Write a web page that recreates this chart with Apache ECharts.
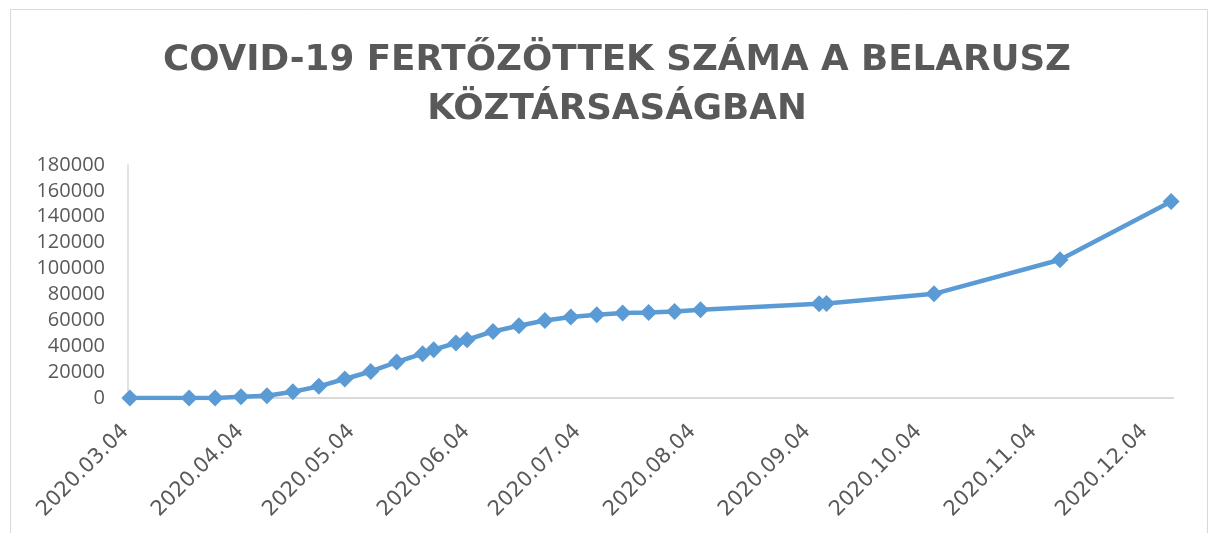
<!DOCTYPE html>
<html>
<head>
<meta charset="utf-8">
<title>COVID-19 Belarusz</title>
<script src="https://cdn.jsdelivr.net/npm/echarts@6/dist/echarts.min.js"></script>
<style>
  html, body { margin: 0; padding: 0; background: #fff; }
  #main { width: 1209px; height: 533px; }
</style>
</head>
<body>
<div id="main"></div>
<script>
// adatok
var dates = ['2020-03-04', '2020-03-20', '2020-03-27', '2020-04-03', '2020-04-10', '2020-04-17',
  '2020-04-24', '2020-05-01', '2020-05-08', '2020-05-15', '2020-05-22', '2020-05-25',
  '2020-05-31', '2020-06-03', '2020-06-10', '2020-06-17', '2020-06-24', '2020-07-01',
  '2020-07-08', '2020-07-15', '2020-07-22', '2020-07-29', '2020-08-05', '2020-09-06',
  '2020-09-08', '2020-10-07', '2020-11-10', '2020-12-10'];
var cases = [6, 60, 94, 1000, 1800, 4800,
  9000, 14700, 20500, 27800, 34200, 37300,
  42500, 45000, 51400, 55800, 59900, 62500,
  64300, 65600, 66100, 66900, 68200, 72800,
  73000, 80500, 106800, 151800];
var tickDates = ['2020-03-04', '2020-04-04', '2020-05-04', '2020-06-04', '2020-07-04',
  '2020-08-04', '2020-09-04', '2020-10-04', '2020-11-04', '2020-12-04'];
var yMax = 180000, yStep = 20000;

function ts(s) {
  var p = s.split('-');
  return Date.UTC(+p[0], +p[1] - 1, +p[2]);
}
function pad(n) { return (n < 10 ? '0' : '') + n; }

var seriesData = [];
for (var i = 0; i < dates.length; i++) {
  seriesData.push([ts(dates[i]), cases[i]]);
}
var tickValues = tickDates.map(ts);
var day = 24 * 3600 * 1000;

var myChart = echarts.init(document.getElementById('main'));
var option = {
  backgroundColor: '#fff',
  animation: false,
  title: {
    text: 'COVID-19 FERTŐZÖTTEK SZÁMA A BELARUSZ\nKÖZTÁRSASÁGBAN',
    left: 612,
    textAlign: 'center',
    top: 31,
    textStyle: {
      fontFamily: 'DejaVu Sans',
      fontWeight: 'bold',
      fontSize: 35.7,
      lineHeight: 49,
      color: '#595959'
    }
  },
  graphic: [{
    type: 'rect',
    shape: { x: 10.5, y: 9.5, width: 1197, height: 600 },
    style: { fill: 'none', stroke: '#d9d9d9', lineWidth: 1 },
    silent: true
  }],
  grid: { left: 128, right: 36, top: 165, bottom: 135, containLabel: false },
  xAxis: {
    type: 'value',
    min: ts('2020-03-04') - day / 2,
    max: ts('2020-12-10') + day / 2,
    splitLine: { show: false },
    axisTick: { show: false },
    axisLine: { show: true, lineStyle: { color: '#d9d9d9', width: 2 } },
    axisLabel: {
      customValues: tickValues,
      rotate: 45,
      margin: 26,
      padding: [0, 6, 0, 0],
      color: '#595959',
      fontFamily: 'DejaVu Sans',
      fontSize: 21,
      formatter: function (v) {
        var d = new Date(v);
        return d.getUTCFullYear() + '.' + pad(d.getUTCMonth() + 1) + '.' + pad(d.getUTCDate());
      }
    }
  },
  yAxis: {
    type: 'value',
    min: 0,
    max: yMax,
    interval: yStep,
    splitLine: { show: false },
    axisTick: { show: false },
    axisLine: { show: true, lineStyle: { color: '#d9d9d9', width: 1.5 } },
    axisLabel: {
      margin: 23,
      color: '#595959',
      fontFamily: 'Open Sans',
      fontSize: 20,
      formatter: function (v) { return String(v); }
    }
  },
  series: [{
    type: 'line',
    data: seriesData,
    symbol: 'diamond',
    symbolSize: 17,
    lineStyle: { color: '#5b9bd5', width: 4.5 },
    itemStyle: { color: '#5b9bd5' }
  }]
};
myChart.setOption(option);
</script>
</body>
</html>
